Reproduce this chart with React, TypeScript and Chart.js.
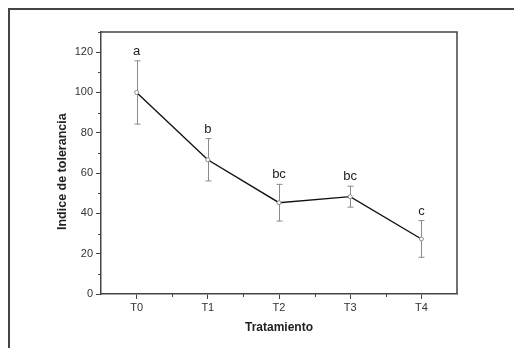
import React, { useEffect, useRef } from "react";
import { Chart, registerables } from "chart.js";

Chart.register(...registerables);

// ---- data ----
const categories = ["T0", "T1", "T2", "T3", "T4"];
const means = [100, 66.6, 45.3, 48.3, 27.3];
const errors = [15.7, 10.5, 9.1, 5.2, 9.1];
const letters = ["a", "b", "bc", "bc", "c"];
const yMajorStep = 20;
const yMinorStep = 10;
const yMin = 0;
const yMax = 130;
const xTitle = "Tratamiento";
const yTitle = "Indice de tolerancia";

const FONT = "'Liberation Sans', Arial, Helvetica, sans-serif";
const AXIS = "#444444";

const decorPlugin = {
  id: "decor",
  afterDatasetsDraw(chart: any) {
    const { ctx, chartArea, scales } = chart;
    const xs = scales.x;
    const ys = scales.y;
    ctx.save();
    // plot frame (top and right)
    ctx.strokeStyle = AXIS;
    ctx.lineWidth = 1.5;
    ctx.beginPath();
    ctx.moveTo(chartArea.left, chartArea.top);
    ctx.lineTo(chartArea.right, chartArea.top);
    ctx.lineTo(chartArea.right, chartArea.bottom);
    ctx.stroke();

    // minor ticks
    ctx.lineWidth = 1;
    ctx.beginPath();
    ys.ticks.forEach((t: any) => {
      if (t.value % yMajorStep !== 0) {
        const py = Math.round(ys.getPixelForValue(t.value)) + 0.5;
        ctx.moveTo(chartArea.left - 3, py);
        ctx.lineTo(chartArea.left, py);
      }
    });
    xs.ticks.forEach((t: any) => {
      if (!Number.isInteger(t.value) && t.value > xs.min && t.value < xs.max) {
        const px = Math.round(xs.getPixelForValue(t.value)) + 0.5;
        ctx.moveTo(px, chartArea.bottom);
        ctx.lineTo(px, chartArea.bottom + 3);
      }
    });
    ctx.stroke();

    // error bars
    ctx.strokeStyle = "#8a8a8a";
    ctx.lineWidth = 1;
    means.forEach((m, i) => {
      const px = Math.round(xs.getPixelForValue(i)) + 0.5;
      const top = ys.getPixelForValue(m + errors[i]);
      const bot = ys.getPixelForValue(m - errors[i]);
      ctx.beginPath();
      ctx.moveTo(px, top);
      ctx.lineTo(px, bot);
      ctx.moveTo(px - 3, top);
      ctx.lineTo(px + 3, top);
      ctx.moveTo(px - 3, bot);
      ctx.lineTo(px + 3, bot);
      ctx.stroke();
    });

    // points
    ctx.fillStyle = "#ffffff";
    means.forEach((m, i) => {
      const px = xs.getPixelForValue(i);
      const py = ys.getPixelForValue(m);
      ctx.beginPath();
      ctx.arc(px, py, 2, 0, Math.PI * 2);
      ctx.fill();
      ctx.stroke();
    });

    // significance letters
    ctx.fillStyle = "#222222";
    ctx.font = `13px ${FONT}`;
    ctx.textAlign = "center";
    ctx.textBaseline = "alphabetic";
    letters.forEach((l, i) => {
      const px = xs.getPixelForValue(i);
      const top = ys.getPixelForValue(means[i] + errors[i]);
      ctx.fillText(l, px, top - 6);
    });
    ctx.restore();
  },
};

export default function App() {
  const ref = useRef<HTMLCanvasElement | null>(null);

  useEffect(() => {
    if (!ref.current) return;
    const chart = new Chart(ref.current, {
      type: "line",
      data: {
        datasets: [
          {
            data: means.map((m, i) => ({ x: i, y: m })),
            borderColor: "#111111",
            borderWidth: 1.4,
            pointRadius: 0,
            tension: 0,
          },
        ],
      },
      options: {
        animation: false,
        responsive: false,
        maintainAspectRatio: false,
        layout: { padding: { top: 32, right: 57, left: 0, bottom: 0 } },
        plugins: { legend: { display: false }, tooltip: { enabled: false } },
        scales: {
          x: {
            type: "linear",
            min: -0.5,
            max: 4.5,
            afterFit: (s: any) => {
              s.height = 54;
            },
            afterBuildTicks: (s: any) => {
              const t = [];
              for (let v = -0.5; v <= 4.5001; v += 0.5) t.push({ value: Math.round(v * 2) / 2 });
              s.ticks = t;
            },
            ticks: {
              autoSkip: false,
              maxRotation: 0,
              padding: 2,
              color: "#333333",
              font: { family: FONT, size: 11 },
              callback: (v: any) =>
                Number.isInteger(v) && v >= 0 && v < categories.length ? categories[v] : "",
            },
            grid: {
              display: true,
              drawOnChartArea: false,
              drawTicks: true,
              tickLength: 5,
              tickWidth: 1,
              tickColor: (c: any) =>
                c.tick && Number.isInteger(c.tick.value) ? AXIS : "rgba(0,0,0,0)",
            },
            border: { display: true, color: AXIS, width: 1.5 },
            title: {
              display: true,
              text: xTitle,
              color: "#222222",
              font: { family: FONT, size: 12, weight: "bold" },
              padding: { top: 0, bottom: 13 },
            },
          },
          y: {
            type: "linear",
            min: yMin,
            max: yMax,
            afterFit: (s: any) => {
              s.width = 101;
            },
            ticks: {
              stepSize: yMinorStep,
              autoSkip: false,
              padding: 3,
              color: "#333333",
              font: { family: FONT, size: 11 },
              callback: (v: any) => (v % yMajorStep === 0 ? String(v) : ""),
            },
            grid: {
              display: true,
              drawOnChartArea: false,
              drawTicks: true,
              tickLength: 5,
              tickWidth: 1,
              tickColor: (c: any) =>
                c.tick && c.tick.value % yMajorStep === 0 ? AXIS : "rgba(0,0,0,0)",
            },
            border: { display: true, color: AXIS, width: 1.5 },
            title: {
              display: true,
              text: yTitle + "\u00A0\u00A0\u00A0\u00A0\u00A0",
              color: "#222222",
              font: { family: FONT, size: 12.5, weight: "bold" },
              padding: { top: 55, bottom: 0 },
            },
          },
        },
      },
      plugins: [decorPlugin],
    } as any);
    return () => chart.destroy();
  }, []);

  return (
    <div
      style={{
        position: "fixed",
        left: 0,
        top: 0,
        width: 514,
        height: 348,
        overflow: "hidden",
        background: "#ffffff",
      }}
    >
      <div
        style={{
          position: "absolute",
          left: 8,
          top: 8,
          width: 506,
          height: 340,
          boxSizing: "border-box",
          borderLeft: "2px solid #444444",
          borderTop: "2px solid #444444",
        }}
      />
      <canvas ref={ref} width={514} height={348} style={{ position: "absolute", left: 0, top: 0 }} />
    </div>
  );
}
